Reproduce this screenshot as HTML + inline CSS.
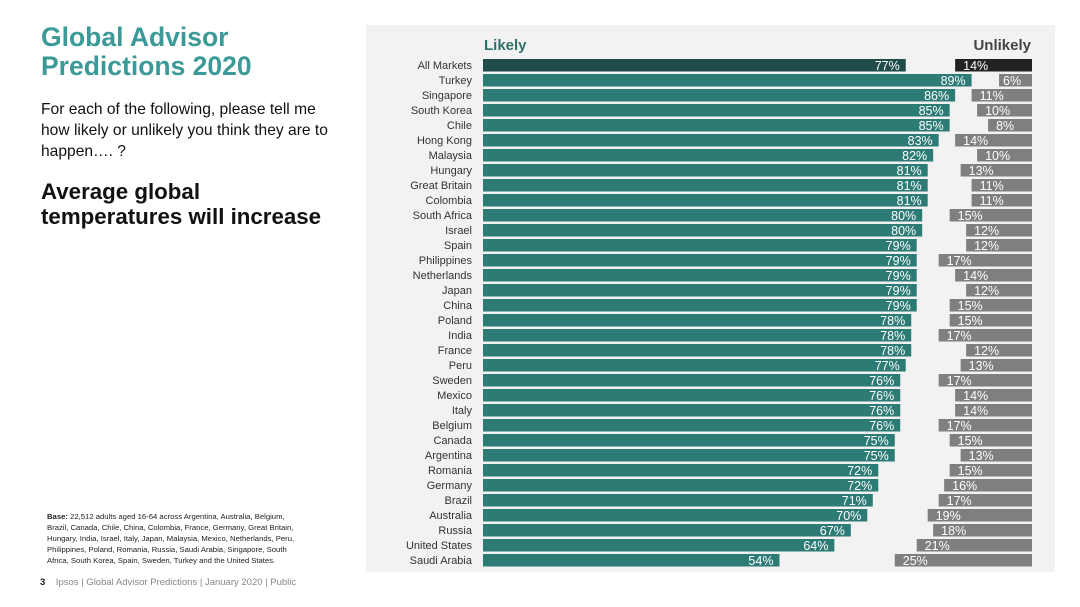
<!DOCTYPE html>
<html><head><meta charset="utf-8"><style>
body{margin:0;width:1080px;height:607px;background:#fff;font-family:"Liberation Sans",sans-serif;position:relative;overflow:hidden}
.t{position:absolute}
</style></head><body>
<div class="t" style="left:41px;top:23px;color:#3b9a98;font-size:26.5px;font-weight:bold;line-height:29px">Global Advisor<br>Predictions 2020</div>
<div class="t" style="left:41px;top:99px;font-size:15.6px;line-height:21px;color:#111">For each of the following, please tell me<br>how likely or unlikely you think they are to<br>happen…. ?</div>
<div class="t" style="left:41px;top:179px;font-size:22.3px;font-weight:bold;line-height:25px;color:#111">Average global<br>temperatures will increase</div>
<div class="t" style="left:47px;top:511px;font-size:7.7px;line-height:11px;color:#222;width:260px"><b>Base:</b> 22,512 adults aged 16-64 across Argentina, Australia, Belgium, Brazil, Canada, Chile, China, Colombia, France, Germany, Great Britain, Hungary, India, Israel, Italy, Japan, Malaysia, Mexico, Netherlands, Peru, Philippines, Poland, Romania, Russia, Saudi Arabia, Singapore, South Africa, South Korea, Spain, Sweden, Turkey and the United States.</div>
<div class="t" style="left:40px;top:577px;font-size:9.5px;color:#888"><b style="color:#222">3</b> &nbsp;&nbsp;&nbsp;Ipsos | Global Advisor Predictions | January 2020 | Public</div>
<svg class="t" style="left:0;top:0" width="1080" height="607" id="chart">
<rect x="366" y="25" width="689" height="547" fill="#f2f2f2"/>
<text x="484" y="50" font-size="15" font-weight="bold" fill="#2e6f6a">Likely</text>
<text x="1031" y="50" font-size="15" font-weight="bold" fill="#444" text-anchor="end">Unlikely</text>
</svg>
<script>
const countries=["All Markets","Turkey","Singapore","South Korea","Chile","Hong Kong","Malaysia","Hungary","Great Britain","Colombia","South Africa","Israel","Spain","Philippines","Netherlands","Japan","China","Poland","India","France","Peru","Sweden","Mexico","Italy","Belgium","Canada","Argentina","Romania","Germany","Brazil","Australia","Russia","United States","Saudi Arabia"];
const likely=[77,89,86,85,85,83,82,81,81,81,80,80,79,79,79,79,79,78,78,78,77,76,76,76,76,75,75,72,72,71,70,67,64,54];
const unlikely=[14,6,11,10,8,14,10,13,11,11,15,12,12,17,14,12,15,15,17,12,13,17,14,14,17,15,13,15,16,17,19,18,21,25];
const svg=document.getElementById('chart');const NS='http://www.w3.org/2000/svg';
const x0=483,sc=5.49,xr=1032;
const yc=i=>65+15*i;const xL=v=>v*sc;
function mk(t,a){const e=document.createElementNS(NS,t);for(const k in a)e.setAttribute(k,a[k]);svg.appendChild(e);return e;}
countries.forEach((c,i)=>{
 const y=yc(i);
 const lab=mk('text',{x:472,y:y+4,'font-size':11,'text-anchor':'end',fill:'#333'});lab.textContent=c;
 
 
 const w=xL(likely[i]);
 const b=mk('rect',{x:x0,y:y-6,width:w,height:12.5,fill:i==0?'#1f4b48':'#2d7b75'});
 
 
 const t=mk('text',{x:x0+w-6,y:y+5,'font-size':12.5,'text-anchor':'end',fill:'#fff'});t.textContent=likely[i]+'%';
 
 
 const wu=xL(unlikely[i]);
 const u=mk('rect',{x:xr-wu,y:y-6,width:wu,height:12.5,fill:i==0?'#222':'#7f7f7f'});
 
 
 const tu=mk('text',{x:xr-wu+(wu>40?8:4),y:y+5,'font-size':12.5,fill:'#fff'});tu.textContent=unlikely[i]+'%';
 
 
});
</script>
</body></html>
